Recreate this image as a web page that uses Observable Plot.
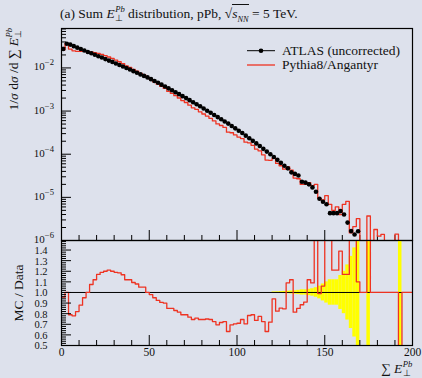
<!DOCTYPE html>
<html><head><meta charset="utf-8">
<script src="https://cdn.jsdelivr.net/npm/d3@7"></script>
<script src="https://cdn.jsdelivr.net/npm/@observablehq/plot@0.6"></script>
<style>
html,body{margin:0;padding:0;background:#dde1ec;}
#wrap{position:relative;width:422px;height:378px;overflow:hidden;font-family:"Liberation Serif",serif;color:#111;}
#top,#bot{position:absolute;left:0;}
#top{top:0;} #bot{top:240px;}
.lbl{position:absolute;white-space:nowrap;line-height:1;}
.ss{display:inline-block;position:relative;width:1.15em;height:0;font-size:0.64em;}
.ss .up{position:absolute;left:0.05em;top:-1.55em;line-height:1;font-style:italic;}
.ss .dn{position:absolute;left:0.05em;top:-0.45em;line-height:1;}
.rot{position:absolute;transform-origin:0 0;transform:rotate(-90deg);white-space:nowrap;line-height:1;}
.tl{position:absolute;font-size:11px;line-height:1;text-align:right;white-space:nowrap;}
.tl sup{font-size:0.78em;vertical-align:0.55em;line-height:0;}
</style></head><body>
<div id="wrap">
  <div id="top"></div><div id="bot"></div>
  <div class="lbl" id="title" style="left:60px;top:7px;font-size:13.5px;">(a) Sum <i>E</i><span class="ss"><span class="up">Pb</span><span class="dn">⊥</span></span> distribution, pPb, <span>√<span style="border-top:1px solid #111;padding-top:1px;"><i>s</i><sub style="font-size:0.62em;line-height:0;"><i>NN</i></sub></span></span> = 5 TeV.</div>
  <div class="rot" style="left:7px;top:158px;width:130px;text-align:right;font-size:13.5px;">1/<i>σ</i> d<i>σ</i> /d ∑ <i>E</i><span class="ss"><span class="up">Pb</span><span class="dn">⊥</span></span></div>
  <div class="rot" style="left:12px;top:343px;width:100px;text-align:center;font-size:13.5px;">MC / Data</div>
  <div class="lbl" style="left:381px;top:362px;font-size:13.5px;">∑ <i>E</i><span class="ss"><span class="up">Pb</span><span class="dn">⊥</span></span></div>
  <svg style="position:absolute;left:245px;top:43px;" width="34" height="30">
    <line x1="2" y1="7.7" x2="30" y2="7.7" stroke="#000" stroke-width="1"/>
    <circle cx="16" cy="7.7" r="2.3" fill="#000"/>
    <line x1="2" y1="22" x2="30" y2="22" stroke="#ee3322" stroke-width="1.3"/>
  </svg>
  <div class="lbl" style="left:282px;top:44px;font-size:13.5px;">ATLAS (uncorrected)</div>
  <div class="lbl" style="left:282px;top:58px;font-size:13.5px;">Pythia8/Angantyr</div>
</div>
<script>
// ---- data (bins of width 2 in Sum E_T^Pb, 0..200) ----
const binWidth = 2;
const binLow = d3.range(0, 200, binWidth);

const atlas = [
 2.75e-2,3.63e-2,3.47e-2,3.20e-2,2.95e-2,2.75e-2,2.54e-2,2.34e-2,2.19e-2,2.02e-2,
 1.86e-2,1.74e-2,1.60e-2,1.48e-2,1.38e-2,1.27e-2,1.17e-2,1.08e-2,1.00e-2,9.18e-3,
 8.43e-3,7.76e-3,7.08e-3,6.53e-3,6.03e-3,5.50e-3,4.99e-3,4.53e-3,4.10e-3,3.72e-3,
 3.36e-3,3.03e-3,2.74e-3,2.47e-3,2.22e-3,2.00e-3,1.79e-3,1.60e-3,1.44e-3,1.29e-3,
 1.15e-3,1.02e-3,9.12e-4,8.13e-4,7.24e-4,6.46e-4,5.75e-4,5.13e-4,4.52e-4,3.98e-4,
 3.51e-4,3.09e-4,2.69e-4,2.34e-4,2.04e-4,1.78e-4,1.55e-4,1.33e-4,1.15e-4,1.00e-4,
 8.6e-5,7.4e-5,6.3e-5,5.4e-5,4.7e-5,3.8e-5,3.5e-5,3.2e-5,2.3e-5,2.2e-5,
 2.0e-5,1.7e-5,1.35e-5,9.3e-6,7.9e-6,6.9e-6,4.3e-6,4.3e-6,4.3e-6,4.8e-6,
 4.0e-6,2.6e-6,1.65e-6,1.38e-6,1.64e-6,null,null,null,null,null,
 null,null,null,null,null,null,null,null,null,null
];

const pythia = [
 2.63e-2,3.63e-2,2.74e-2,2.49e-2,2.42e-2,2.42e-2,2.41e-2,2.34e-2,2.35e-2,2.26e-2,
 2.18e-2,2.07e-2,1.92e-2,1.79e-2,1.66e-2,1.52e-2,1.39e-2,1.26e-2,1.12e-2,1.03e-2,
 9.23e-3,8.38e-3,7.43e-3,6.86e-3,6.03e-3,5.39e-3,4.74e-3,4.19e-3,3.72e-3,3.34e-3,
 2.85e-3,2.58e-3,2.27e-3,2.01e-3,1.75e-3,1.58e-3,1.37e-3,1.19e-3,1.09e-3,9.58e-4,
 8.55e-4,7.67e-4,6.79e-4,5.90e-4,5.04e-4,4.63e-4,4.18e-4,3.24e-4,3.14e-4,2.80e-4,
 2.49e-4,2.30e-4,1.90e-4,1.84e-4,1.61e-4,1.31e-4,1.20e-4,9.7e-5,7.3e-5,7.2e-5,
 8.1e-5,6.1e-5,5.4e-5,4.5e-5,5.1e-5,4.3e-5,2.8e-5,2.7e-5,2.0e-5,2.0e-5,
 2.2e-5,1.85e-5,2.0e-5,9.5e-6,8.7e-6,1.1e-5,6.9e-6,5.0e-6,6.0e-6,4.0e-6,
 6.9e-6,8.1e-6,1.5e-6,2.1e-6,3.2e-6,0,0,3.7e-6,0,1.8e-6,
 1.26e-6,1.38e-6,0,0,0,1.4e-6,0,0,0,0
];

const ratio = [
 0.956,1.0,0.79,0.78,0.82,0.88,0.95,1.0,1.075,1.12,
 1.17,1.19,1.20,1.21,1.20,1.19,1.185,1.167,1.12,1.12,
 1.094,1.08,1.05,1.05,1.0,0.98,0.95,0.925,0.906,0.90,
 0.85,0.85,0.83,0.815,0.79,0.79,0.767,0.745,0.758,0.745,
 0.745,0.75,0.745,0.726,0.695,0.717,0.726,0.632,0.695,0.704,
 0.71,0.745,0.704,0.783,0.79,0.736,0.774,0.726,0.632,0.72,
 0.94,0.824,0.852,0.846,1.091,1.12,0.814,0.85,0.884,0.909,
 1.12,1.09,1.6,0.99,1.06,1.6,1.6,1.21,1.21,1.39,
 1.17,1.17,1.6,1.6,1.10,1.0,1.0,1.6,1.0,1.0,
 1.0,1.0,1.0,1.0,1.0,1.0,0,1.0,1.0,1.0
];

// relative data uncertainty (half width of yellow band)
const ratioErr = [
 0,0,0,0,0,0,0,0,0,0, 0,0,0,0,0,0,0,0,0,0,
 0,0,0,0,0,0,0,0,0,0, 0,0,0,0,0,0,0,0,0,0,
 0,0,0,0,0,0,0,0,0,0, 0,0,0,0,0,0,0,0,0,0,
 0.005,0.006,0.008,0.01,0.012,0.014,0.016,0.02,0.025,0.025,
 0.03,0.035,0.045,0.06,0.08,0.1,0.12,0.12,0.12,0.16,
 0.2,0.26,0.34,0.42,0.55,0,0,1.0,0,0,
 0,0,0,0,0,0,1.0,0,0,0
];

const xMajor = [0, 50, 100, 150, 200];
const xMinor = [10,20,30,40,60,70,80,90,110,120,130,140,160,170,180,190];
const logMajor = [1e-6, 1e-5, 1e-4, 1e-3, 1e-2];
const logMinorMult = [2,3,4,5,6,7,8,9];
const ratioMajor = [0.5,0.6,0.7,0.8,0.9,1.0,1.1,1.2,1.3,1.4];
const yTopDomain = [1e-6, 0.082];
const yBotDomain = [0.5, 1.49];

// ---- tables ----
const bins = binLow.map((lo, i) => ({lo, hi: lo + binWidth, mid: lo + binWidth/2,
  atlas: atlas[i], mc: pythia[i], r: ratio[i], e: ratioErr[i]}));
const logMinor = logMajor.flatMap(p => logMinorMult.map(m => m * p)).filter(v => v < yTopDomain[1]);
const ratioMinor = d3.range(25, 75).map(i => i / 50).filter(v => !ratioMajor.some(m => Math.abs(m - v) < 1e-6));

const LOW = 1e-12; // empty bins are drawn down out of the frame
const mcStep = bins.flatMap(b => [{x: b.lo, y: b.mc > 0 ? b.mc : LOW}, {x: b.hi, y: b.mc > 0 ? b.mc : LOW}]);
const rStep = bins.flatMap(b => [{x: b.lo, y: b.r}, {x: b.hi, y: b.r}]);
const dataPts = bins.filter(b => b.atlas != null);

const RED = "#ee3322";
const W = 422, mL = 61, mR = 10;
const pw = W - mL - mR;
const topMT = 28, topMB = 1, topH = 241;
const topPH = topH - topMT - topMB;
const botMT = 0, botMB = 33, botH = 138;
const botPH = botH - botMT - botMB;
const style = {background: "transparent", overflow: "visible", fontFamily: "Liberation Serif, serif", color: "#111"};

const topPlot = Plot.plot({
  width: W, height: topH, marginLeft: mL, marginRight: mR, marginTop: topMT, marginBottom: topMB,
  style,
  x: {domain: [0, 200], axis: null},
  y: {type: "log", domain: yTopDomain, axis: null},
  marks: [
    Plot.tickY(logMinor, {y: d => d, insetRight: pw - 5, stroke: "#000", strokeWidth: 1}),
    Plot.tickY(logMajor, {y: d => d, insetRight: pw - 10, stroke: "#000", strokeWidth: 1}),
    Plot.tickX(xMinor, {x: d => d, insetTop: topPH - 5, stroke: "#000", strokeWidth: 1}),
    Plot.tickX(xMajor, {x: d => d, insetTop: topPH - 10, stroke: "#000", strokeWidth: 1}),
    Plot.line(mcStep, {x: "x", y: "y", stroke: RED, strokeWidth: 1.3, clip: true}),
    Plot.dot(dataPts, {x: "mid", y: "atlas", r: 2.3, fill: "#000", stroke: "none"}),
    Plot.frame({stroke: "#000", strokeWidth: 1.2})
  ]
});
document.getElementById("top").appendChild(topPlot);

const botPlot = Plot.plot({
  width: W, height: botH, marginLeft: mL, marginRight: mR, marginTop: botMT, marginBottom: botMB,
  style,
  x: {domain: [0, 200], axis: null},
  y: {domain: yBotDomain, axis: null},
  marks: [
    Plot.rect(bins.filter(b => b.e > 0), {x1: "lo", x2: "hi", y1: d => 1 - d.e, y2: d => 1 + d.e, fill: "#ffff00", clip: true}),
    Plot.ruleY([1], {stroke: "#000", strokeWidth: 1}),
    Plot.line(rStep, {x: "x", y: "y", stroke: RED, strokeWidth: 1.3, clip: true}),
    Plot.tickY(ratioMinor, {y: d => d, insetRight: pw - 5, stroke: "#000", strokeWidth: 1}),
    Plot.tickY(ratioMajor, {y: d => d, insetRight: pw - 10, stroke: "#000", strokeWidth: 1}),
    Plot.tickX(xMinor, {x: d => d, insetTop: botPH - 5, stroke: "#000", strokeWidth: 1}),
    Plot.tickX(xMajor, {x: d => d, insetTop: botPH - 10, stroke: "#000", strokeWidth: 1}),
    Plot.text(ratioMajor, {y: d => d, frameAnchor: "left", dx: -14, dy: 0.5, textAnchor: "end", text: d => d.toFixed(1), fontSize: 10.5}),
    Plot.text(xMajor, {x: d => d, frameAnchor: "bottom", dy: 10, text: d => String(d), fontSize: 11.5}),
    Plot.frame({stroke: "#000", strokeWidth: 1.2})
  ]
});
document.getElementById("bot").appendChild(botPlot);

// log tick labels as HTML (10 with superscript exponent), placed with the plot's y scale
const ys = topPlot.scale("y");
const wrap = document.getElementById("wrap");
logMajor.forEach(v => {
  const e = Math.round(Math.log10(v));
  const d = document.createElement("div");
  d.className = "tl";
  d.style.right = (W - 54) + "px";
  d.style.top = (ys.apply(v) - 6) + "px";
  d.innerHTML = "10<sup>\u2212" + Math.abs(e) + "</sup>";
  wrap.appendChild(d);
});
</script>
</body></html>
